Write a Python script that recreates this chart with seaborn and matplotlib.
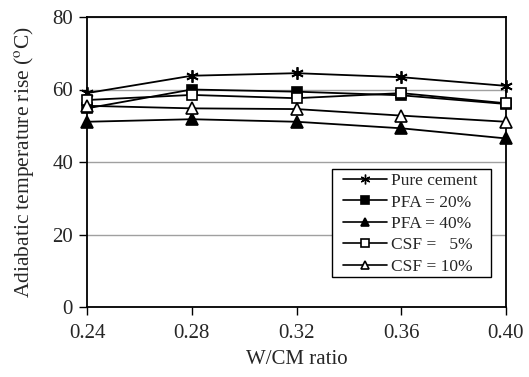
import matplotlib
matplotlib.use("Agg")
import matplotlib.pyplot as plt
from matplotlib.patches import Rectangle
import seaborn as sns
import pandas as pd

wcm = [0.24, 0.28, 0.32, 0.36, 0.40]
pure_cement = [59.0, 63.8, 64.5, 63.4, 61.0]
pfa_20 = [54.8, 60.0, 59.4, 58.4, 56.0]
pfa_40 = [51.1, 51.8, 51.1, 49.3, 46.5]
csf_5 = [57.1, 58.5, 57.6, 59.0, 56.2]
csf_10 = [55.5, 54.8, 54.6, 52.8, 51.1]
labels = ["Pure cement", "PFA = 20%", "PFA = 40%", "CSF =   5%", "CSF = 10%"]
xticks = ["0.24", "0.28", "0.32", "0.36", "0.40"]
yticks = [0, 20, 40, 60, 80]

sns.set_style("white")
plt.rcParams['font.family'] = ['Liberation Serif', 'DejaVu Serif']
plt.rcParams['mathtext.fontset'] = 'stix'

fig = plt.figure(figsize=(5.29, 3.77), dpi=100)
ax = fig.add_axes([87/529, 1-307/377, (506-87)/529, (307-17)/377])

series = [pure_cement, pfa_20, pfa_40, csf_5, csf_10]
styles = [
    dict(marker=(6, 2, 0), markersize=9, markerfacecolor='black', markeredgecolor='black', markeredgewidth=1.3),
    dict(marker='s', markersize=7.5, markerfacecolor='black', markeredgecolor='black', markeredgewidth=1.2),
    dict(marker='^', markersize=8, markerfacecolor='black', markeredgecolor='black', markeredgewidth=1.2),
    dict(marker='s', markersize=7.5, markerfacecolor='white', markeredgecolor='black', markeredgewidth=1.2),
    dict(marker='^', markersize=8, markerfacecolor='white', markeredgecolor='black', markeredgewidth=1.2),
]
for vals, lab, st in zip(series, labels, styles):
    df = pd.DataFrame({"x": wcm, "y": vals})
    sns.lineplot(data=df, x="x", y="y", ax=ax, color="black", linewidth=1.3,
                 label=lab, clip_on=False, zorder=3, **st)

ax.set_xlim(0.24, 0.40)
ax.set_ylim(0, 80)
ax.set_xticks(wcm)
ax.set_xticklabels(xticks)
ax.set_yticks(yticks)
ax.yaxis.grid(True, color="#a0a0a0", linewidth=1.0)
ax.set_axisbelow(True)
for s in ax.spines.values():
    s.set_color("black")
    s.set_linewidth(1.3)
ax.tick_params(axis='both', direction='out', length=6, width=1.0, color='black',
               labelsize=15, pad=4, bottom=True, left=True)
ax.tick_params(axis='x', pad=6)
ax.set_xlabel("W/CM ratio", fontsize=15, labelpad=5)
ax.set_ylabel("Adiabatic temperature rise ($^{\\rm o}$C)", fontsize=15.5, labelpad=12)

# legend frame
frame = Rectangle(((332-87)/419, (307-277)/290), (491-332)/419, 108/290,
                  transform=ax.transAxes, facecolor='white', edgecolor='black',
                  linewidth=1.0, zorder=4)
ax.add_patch(frame)

leg = ax.legend(loc="upper left", bbox_to_anchor=((343-87)/419, (307-173)/290), fontsize=12.5,
                frameon=False, handlelength=2.53, handletextpad=0.23, labelspacing=0.3,
                borderpad=0, borderaxespad=0)
leg.set_zorder(5)
for i, h in enumerate(leg.legend_handles):
    h.set_markersize(7 if i == 0 else 5.5)
    h.set_linewidth(1.2)
    if i == 0:
        h.set_markeredgewidth(1.0)

fig.savefig("out.png", dpi=100)
